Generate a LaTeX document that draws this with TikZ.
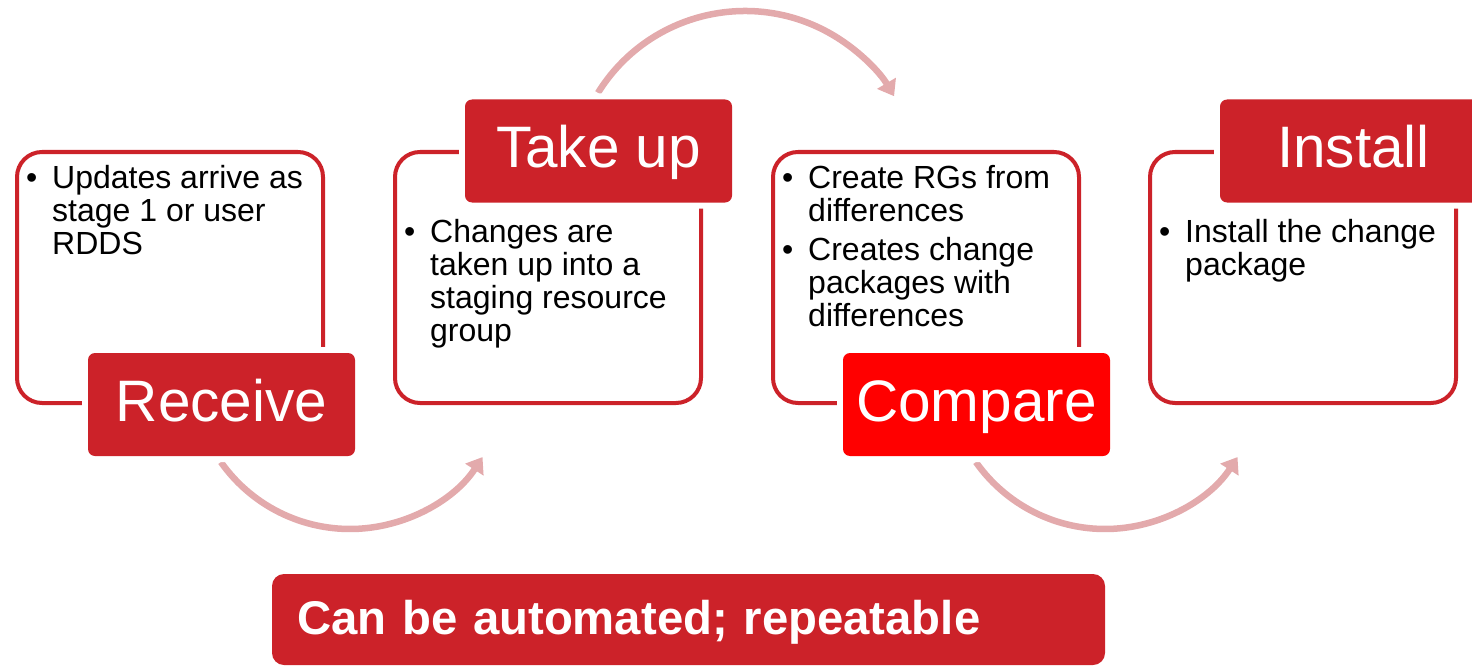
\documentclass[tikz,border=0pt]{standalone}
\usepackage{fontspec}
\setmainfont{Liberation Sans}
\usetikzlibrary{arrows.meta}
\definecolor{boxred}{RGB}{204,34,41}
\definecolor{brightred}{RGB}{255,0,0}
\definecolor{arcpink}{RGB}{227,170,172}
\begin{document}
\begin{tikzpicture}[x=1pt,y=1pt,
  contentbox/.style={draw=boxred, line width=4pt, rounded corners=25pt, fill=white,
    minimum width=306pt, minimum height=251pt, inner sep=0pt},
  steplabel/.style={fill=boxred, preaction={draw=white, line width=12pt},
    rounded corners=7pt, minimum width=267pt, minimum height=103pt, inner sep=0pt,
    text=white, font=\fontsize{58.5}{62}\selectfont, text height=41pt, text depth=8pt},
  flow/.style={draw=arcpink, line width=6.5pt, -{Triangle[width=21pt,length=15pt]}},
  bodytext/.style={font=\fontsize{32}{33}\selectfont, inner sep=0pt, anchor=base west, text=black},
  banner/.style={fill=boxred, rounded corners=12pt, minimum height=91pt, text width=783pt,
    inner xsep=25pt, inner ysep=0pt, align=left, text=white,
    font=\bfseries\fontsize{47.3}{52}\selectfont, text height=36pt, text depth=7pt}]
\path[use as bounding box] (0,0) rectangle (1472,-666);
\clip (0,0) rectangle (1472,-666);

% flow arcs
\coordinate (c1) at (350,-371);
\coordinate (c2) at (1105,-371);
\coordinate (c3) at (745,-184);
\draw[flow] (c1) ++(215.2:158) arc[start angle=215.2, end angle=327, radius=158];
\draw[flow] (c2) ++(215.2:158) arc[start angle=215.2, end angle=327, radius=158];
\draw[flow] (c3) ++(148.2:173) arc[start angle=148.2, end angle=30.5, radius=173];

% content boxes
\node[contentbox] (b1) at (170,-277.5) {};
\node[contentbox] (b2) at (548,-277.5) {};
\node[contentbox] (b3) at (926,-277.5) {};
\node[contentbox] (b4) at (1303,-277.5) {};

% step labels
\node[steplabel] (l1) at (221.5,-404.5) {Receive};
\node[steplabel] (l2) at (598.5,-151) {Take up};
\node[steplabel, fill=brightred] (l3) at (976.5,-404.5) {Compare};
\node[steplabel] (l4) at (1353.5,-151) {Install};

% body texts
\node[bodytext] (p1) at (26,-188) {\textbullet};
\node[bodytext] (t1) at (52,-188) {\vtop{\hbox{Updates arrive as}\hbox{stage 1 or user}\hbox{RDDS}}};

\node[bodytext] (p2) at (404,-242) {\textbullet};
\node[bodytext] (t2) at (430,-242) {\vtop{\hbox{Changes are}\hbox{taken up into a}\hbox{staging resource}\hbox{group}}};

\node[bodytext] (p3) at (782,-188) {\textbullet};
\node[bodytext] (t3) at (808,-188) {\vtop{\hbox{Create RGs from}\hbox{differences}}};
\node[bodytext] (p3b) at (782,-260) {\textbullet};
\node[bodytext] (t3b) at (808,-260) {\vtop{\hbox{Creates change}\hbox{packages with}\hbox{differences}}};

\node[bodytext] (p4) at (1159,-242) {\textbullet};
\node[bodytext] (t4) at (1185,-242) {\vtop{\hbox{Install the change}\hbox{package}}};

% banner
\node[banner] (bn) at (688.5,-619.5) {Can be automated; repeatable};
\end{tikzpicture}
\end{document}
